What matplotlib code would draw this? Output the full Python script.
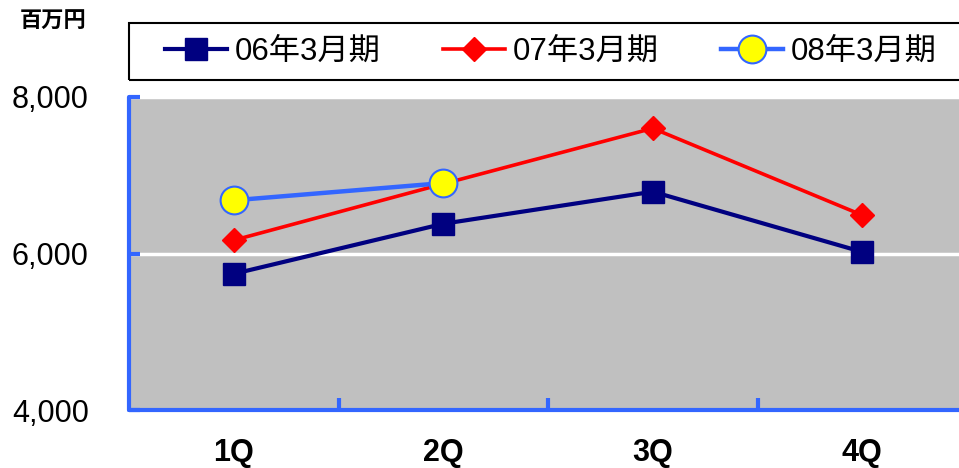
import numpy as np
import matplotlib
matplotlib.use('Agg')
import matplotlib.pyplot as plt
from matplotlib.patches import Rectangle
from matplotlib.ticker import FixedLocator, FuncFormatter

plt.rcParams['font.family'] = ['Liberation Sans', 'Noto Sans CJK JP', 'DejaVu Sans']

#Data
quarters = ['1Q', '2Q', '3Q', '4Q']
fy06 = [5740, 6380, 6790, 6020]
fy07 = [6170, 6890, 7600, 6490]
fy08 = [6680, 6900]
names = ['06年3月期', '07年3月期', '08年3月期']
yticks = [4000, 6000, 8000]

axis_blue = '#3366FF'

fig = plt.figure(figsize=(9.59, 4.68), dpi=100)
ax = fig.add_axes([129/959, 58/468, 838/959, 313/468])
ax.set_facecolor('#C0C0C0')

x = np.arange(len(quarters))
ax.plot(x, fy06, color='#000080', lw=3, marker='s', ms=16, mfc='#000080', mec='#000080', label=names[0], zorder=3)
ax.plot(x, fy07, color='#FF0000', lw=2.6, marker='D', ms=12.5, mfc='#FF0000', mec='#FF0000', label=names[1], zorder=4)
ax.plot(x[:len(fy08)], fy08, color=axis_blue, lw=3.2, marker='o', ms=20, mfc='#FFFF00', mec=axis_blue, mew=1.5, label=names[2], zorder=5)

ax.set_xlim(-0.5, 3.5)
ax.set_ylim(4000, 8000)

#Axes styling
for s in ['top', 'right']:
    ax.spines[s].set_visible(False)
for s in ['left', 'bottom']:
    ax.spines[s].set_color(axis_blue)
    ax.spines[s].set_linewidth(3)
    ax.spines[s].set_capstyle('round')

ax.set_yticks(yticks)
ax.yaxis.set_major_formatter(FuncFormatter(lambda v, p: f'{int(v):,}'))
ax.tick_params(axis='y', direction='in', length=8, width=3, color=axis_blue, pad=29, labelsize=22)
ax.yaxis.grid(True, color='white', lw=2.5)
ax.set_axisbelow(True)

ax.set_xticks(x)
ax.set_xticklabels(quarters, fontweight='bold')
ax.xaxis.set_minor_locator(FixedLocator([0.5, 1.5, 2.5]))
ax.tick_params(axis='x', which='major', length=0, pad=20, labelsize=22)
ax.tick_params(axis='x', which='minor', direction='in', length=9, width=3, color=axis_blue)

#Legend (frame drawn separately so it runs off the right edge)
leg = ax.legend(loc='center left', bbox_to_anchor=(0.026, 1.054, 0.955, 0.182), mode='expand', ncol=3,
                fontsize=22.5, handlelength=2.0, handletextpad=0.25, borderpad=0.45,
                borderaxespad=0, frameon=False)
ax.add_patch(Rectangle((0, 1.054), 1.0, 0.182, transform=ax.transAxes, fill=False,
                       ec='black', lw=1.5, clip_on=False))

fig.text(20/959, 1 - 22/468, '百万円', fontsize=16, fontweight='bold', va='center', ha='left')

fig.savefig('out.png', dpi=100)
